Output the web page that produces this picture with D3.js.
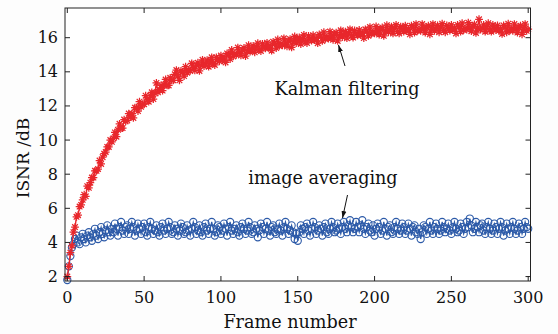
<!DOCTYPE html>
<html>
<head>
<meta charset="utf-8">
<script src="https://cdn.jsdelivr.net/npm/d3@7"></script>
<style>
  body { margin: 0; background: #fdfdfd; }
  text { font-family: "DejaVu Serif", "Liberation Serif", serif; fill: #111; }
</style>
</head>
<body>
<div id="chart"></div>
<script>
// one value per frame, frames 0..300
const kalmanValues = [
  2.0, 2.6, 3.4, 3.8, 4.6, 4.9, 5.5, 5.6, 6.1, 6.2,
  6.5, 6.8, 6.7, 7.3, 7.2, 7.5, 7.8, 7.8, 8.2, 8.2,
  8.3, 8.8, 8.6, 9.0, 9.2, 9.3, 9.6, 9.6, 10.0, 9.9,
  10.1, 10.45, 10.2, 10.6, 10.95, 10.7, 10.7, 11.2, 11.1, 11.15,
  11.55, 11.35, 11.55, 11.3, 11.9, 11.9, 11.7, 12.25, 11.95, 12.1,
  12.1, 12.6, 12.35, 12.25, 12.6, 12.8, 12.4, 12.75, 13.35, 12.8,
  12.95, 13.2, 12.9, 13.25, 13.55, 13.2, 13.2, 13.65, 13.5, 13.5,
  13.85, 14.1, 13.75, 13.5, 14.05, 14.0, 13.75, 14.3, 13.95, 14.1,
  14.05, 14.5, 14.25, 14.08, 14.4, 14.53, 14.05, 14.38, 14.7, 14.33,
  14.45, 14.68, 14.3, 14.63, 14.85, 14.48, 14.4, 14.85, 14.7, 14.62,
  14.95, 14.68, 14.82, 14.55, 15.08, 15.02, 14.75, 15.28, 14.9, 15.05,
  15.0, 15.42, 15.14, 14.96, 15.28, 15.4, 14.92, 15.24, 15.56, 15.18,
  15.3, 15.52, 15.14, 15.46, 15.68, 15.3, 15.22, 15.64, 15.46, 15.38,
  15.7, 15.41, 15.53, 15.24, 15.76, 15.67, 15.39, 15.9, 15.52, 15.63,
  15.55, 15.96, 15.68, 15.49, 15.8, 15.92, 15.43, 15.75, 16.07, 15.68,
  15.8, 16.01, 15.63, 15.94, 16.16, 15.77, 15.69, 16.1, 15.92, 15.83,
  16.15, 15.86, 15.97, 15.68, 16.19, 16.1, 15.81, 16.32, 15.93, 16.04,
  15.95, 16.36, 16.07, 15.88, 16.19, 16.3, 15.81, 16.12, 16.43, 16.04,
  16.15, 16.36, 15.97, 16.28, 16.49, 16.1, 16.01, 16.42, 16.23, 16.14,
  16.45, 16.16, 16.27, 15.98, 16.49, 16.4, 16.11, 16.62, 16.23, 16.34,
  16.25, 16.66, 16.37, 16.18, 16.49, 16.6, 16.11, 16.42, 16.73, 16.32,
  16.45, 16.65, 16.25, 16.55, 16.75, 16.35, 16.25, 16.65, 16.45, 16.35,
  16.7, 16.4, 16.5, 16.2, 16.7, 16.6, 16.3, 16.8, 16.4, 16.5,
  16.4, 16.8, 16.5, 16.3, 16.6, 16.7, 16.2, 16.5, 16.8, 16.4,
  16.52, 16.72, 16.32, 16.62, 16.82, 16.42, 16.32, 16.72, 16.52, 16.42,
  16.75, 16.45, 16.55, 16.25, 16.75, 16.65, 16.35, 16.85, 16.45, 16.55,
  16.48, 16.88, 16.58, 16.38, 16.68, 16.78, 16.28, 16.58, 17.08, 16.48,
  16.55, 16.75, 16.35, 16.65, 16.85, 16.45, 16.35, 16.75, 16.55, 16.45,
  16.72, 16.42, 16.52, 16.22, 16.72, 16.62, 16.32, 16.82, 16.42, 16.52,
  16.4, 16.8, 16.5, 16.3, 16.6, 16.7, 16.2, 16.5, 16.8, 16.4,
  16.5
];
const averagingValues = [
  1.8, 2.6, 3.2, 3.7, 3.9, 4.2, 4.4, 4.0, 3.9, 4.3,
  4.5, 4.2, 4.0, 4.4, 4.6, 4.3, 4.1, 4.5, 4.8, 4.4,
  4.2, 4.6, 4.9, 4.5, 4.3, 4.7, 5.0, 4.6, 4.4, 4.8,
  4.6, 5.1, 4.8, 4.4, 4.9, 5.2, 4.7, 4.5, 4.9, 5.0,
  4.5, 4.8, 5.2, 4.9, 4.4, 4.7, 5.1, 4.8, 4.5, 4.9,
  5.1, 4.6, 4.4, 4.9, 5.2, 4.8, 4.5, 4.7, 5.0, 4.6,
  4.4, 4.9, 5.1, 4.7, 4.5, 4.8, 5.2, 4.9, 4.5, 4.6,
  5.0, 4.8, 4.4, 4.7, 5.1, 4.9, 4.5, 4.6, 5.0, 4.7,
  4.4, 4.8, 5.2, 4.9, 4.5, 4.7, 5.0, 4.6, 4.4, 4.9,
  5.1, 4.7, 4.5, 4.8, 5.2, 4.8, 4.4, 4.6, 5.0, 4.9,
  4.5, 4.7, 5.1, 4.8, 4.4, 4.9, 5.2, 4.7, 4.5, 4.8,
  5.0, 4.6, 4.4, 4.9, 5.1, 4.8, 4.5, 4.7, 5.2, 4.9,
  4.5, 4.6, 5.0, 4.8, 4.3, 4.7, 5.1, 4.9, 4.5, 4.8,
  5.2, 4.7, 4.4, 4.9, 5.0, 4.6, 4.5, 4.8, 5.1, 4.7,
  4.4, 4.9, 5.2, 4.8, 4.5, 4.7, 5.0, 4.6, 4.2, 4.5,
  4.1, 4.6, 5.0, 4.8, 4.5, 4.9, 5.1, 4.7, 4.4, 4.8,
  5.2, 4.9, 4.5, 4.7, 5.0, 4.8, 4.4, 4.9, 5.1, 4.6,
  4.5, 4.8, 5.2, 4.9, 4.6, 4.7, 5.1, 4.8, 4.5, 4.9,
  5.2, 4.8, 4.6, 5.0, 5.3, 4.9, 4.6, 4.8, 5.2, 4.9,
  4.6, 5.0, 5.3, 4.8, 4.5, 4.9, 5.1, 4.7, 4.6, 5.0,
  4.4, 4.8, 5.1, 4.9, 4.5, 4.7, 5.2, 4.8, 4.4, 4.9,
  5.0, 4.6, 4.5, 4.9, 5.2, 4.8, 4.5, 4.7, 5.1, 4.9,
  4.5, 4.7, 5.1, 4.8, 4.4, 4.9, 5.0, 4.6, 4.5, 4.8,
  4.2, 4.6, 5.0, 4.9, 4.5, 4.8, 5.2, 4.7, 4.5, 4.9,
  5.1, 4.8, 4.5, 4.7, 5.2, 4.9, 4.6, 4.8, 5.1, 4.7,
  4.5, 4.9, 5.2, 4.8, 4.6, 4.7, 5.1, 4.9, 4.5, 4.8,
  5.2, 4.9, 5.4, 5.0, 4.6, 4.8, 5.2, 4.9, 4.6, 5.0,
  5.1, 4.7, 4.5, 4.9, 5.2, 4.8, 4.5, 4.7, 5.1, 4.9,
  4.5, 4.8, 5.2, 4.9, 4.4, 4.7, 5.1, 4.8, 4.5, 4.9,
  5.2, 4.8, 4.5, 4.7, 5.1, 4.9, 4.5, 4.8, 5.2, 4.9,
  4.8
];
const xTicks = [0, 50, 100, 150, 200, 250, 300];
const yTicks = [2, 4, 6, 8, 10, 12, 14, 16];

const width = 558, height = 334;
const plotLeft = 65, plotRight = 530.5, plotTop = 8, plotBottom = 281;

const svg = d3.select('#chart').append('svg')
  .attr('width', width)
  .attr('height', height);

const x = d3.scaleLinear().domain([-1.5, 301.5]).range([plotLeft, plotRight]);
const y = d3.scaleLinear().domain([1.74, 17.74]).range([plotBottom, plotTop]);

svg.append('rect')
  .attr('x', plotLeft).attr('y', plotTop)
  .attr('width', plotRight - plotLeft).attr('height', plotBottom - plotTop)
  .attr('fill', '#fff');

const kalman = kalmanValues.map((v, i) => ({ f: i, v: v }));
const averaging = averagingValues.map((v, i) => ({ f: i, v: v }));

const line = d3.line().x(d => x(d.f)).y(d => y(d.v));

const plot = svg.append('g');

// image averaging: circles joined by a line
const blue = '#2c5aa8';
plot.append('path').datum(averaging)
  .attr('d', line)
  .attr('fill', 'none')
  .attr('stroke', blue)
  .attr('stroke-width', 1.2);
plot.selectAll('.avg')
  .data(averaging)
  .enter().append('circle')
  .attr('cx', d => x(d.f))
  .attr('cy', d => y(d.v))
  .attr('r', 3.6)
  .attr('fill', 'none')
  .attr('stroke', blue)
  .attr('stroke-width', 1.1);

// kalman filtering: star markers joined by a line
const red = '#e8272c';
plot.append('path').datum(kalman)
  .attr('d', line)
  .attr('fill', 'none')
  .attr('stroke', red)
  .attr('stroke-width', 1.4);
const s = 3.9, k = s * 0.72;
const starPath = `M${-s},0H${s}M0,${-s}V${s}M${-k},${-k}L${k},${k}M${-k},${k}L${k},${-k}`;
plot.selectAll('.kal')
  .data(kalman)
  .enter().append('path')
  .attr('transform', d => `translate(${x(d.f)},${y(d.v)})`)
  .attr('d', starPath)
  .attr('fill', 'none')
  .attr('stroke', red)
  .attr('stroke-width', 1.25);

// axes box with inward ticks on all sides
const tickLen = 5;
const frame = svg.append('g').attr('stroke', '#222').attr('stroke-width', 1);
frame.append('rect')
  .attr('x', plotLeft).attr('y', plotTop)
  .attr('width', plotRight - plotLeft).attr('height', plotBottom - plotTop)
  .attr('fill', 'none');
xTicks.forEach(t => {
  frame.append('line').attr('x1', x(t)).attr('x2', x(t)).attr('y1', plotBottom).attr('y2', plotBottom - tickLen);
  frame.append('line').attr('x1', x(t)).attr('x2', x(t)).attr('y1', plotTop).attr('y2', plotTop + tickLen);
});
yTicks.forEach(t => {
  frame.append('line').attr('x1', plotLeft).attr('x2', plotLeft + tickLen).attr('y1', y(t)).attr('y2', y(t));
  frame.append('line').attr('x1', plotRight).attr('x2', plotRight - tickLen).attr('y1', y(t)).attr('y2', y(t));
});

svg.selectAll('.xlab')
  .data(xTicks)
  .enter().append('text')
  .attr('x', d => x(d))
  .attr('y', 303)
  .attr('text-anchor', 'middle')
  .attr('font-size', 16)
  .text(d => d);

svg.selectAll('.ylab')
  .data(yTicks)
  .enter().append('text')
  .attr('x', 58)
  .attr('y', d => y(d) + 5.5)
  .attr('text-anchor', 'end')
  .attr('font-size', 16)
  .text(d => d);

svg.append('text')
  .attr('x', 290).attr('y', 328)
  .attr('text-anchor', 'middle')
  .attr('font-size', 17.6)
  .text('Frame number');

svg.append('text')
  .attr('transform', 'translate(29,158) rotate(-90)')
  .attr('text-anchor', 'middle')
  .attr('font-size', 17)
  .text('ISNR /dB');

// annotations
svg.append('defs').append('marker')
  .attr('id', 'arrow')
  .attr('viewBox', '0 0 10 10')
  .attr('refX', 10).attr('refY', 5)
  .attr('markerWidth', 7).attr('markerHeight', 7)
  .attr('orient', 'auto')
  .append('path')
  .attr('d', 'M0,1.5L10,5L0,8.5Z')
  .attr('fill', '#111');

svg.append('line')
  .attr('x1', 345).attr('y1', 66)
  .attr('x2', 338.5).attr('y2', 45)
  .attr('stroke', '#111').attr('stroke-width', 1)
  .attr('marker-end', 'url(#arrow)');
svg.append('text')
  .attr('x', 347).attr('y', 95)
  .attr('text-anchor', 'middle')
  .attr('font-size', 17.6)
  .text('Kalman filtering');

svg.append('line')
  .attr('x1', 347.5).attr('y1', 195)
  .attr('x2', 342.5).attr('y2', 218)
  .attr('stroke', '#111').attr('stroke-width', 1)
  .attr('marker-end', 'url(#arrow)');
svg.append('text')
  .attr('x', 323).attr('y', 184)
  .attr('text-anchor', 'middle')
  .attr('font-size', 17.6)
  .text('image averaging');
</script>
</body>
</html>
